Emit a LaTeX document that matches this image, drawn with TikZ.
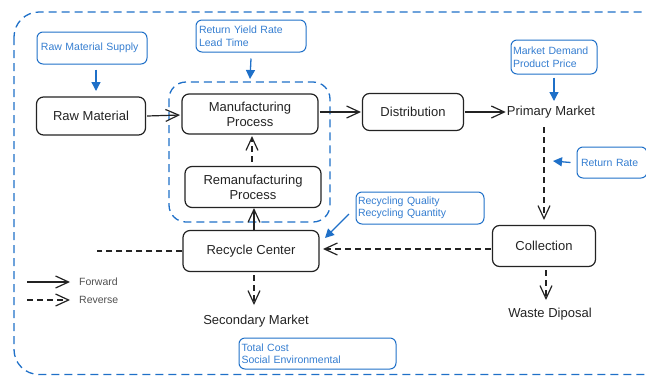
\documentclass[tikz,border=0pt]{standalone}
\usepackage{fontspec}
\setmainfont{Liberation Sans}
\usetikzlibrary{arrows.meta}
\definecolor{bl}{RGB}{31,112,200}
\definecolor{blt}{RGB}{52,125,208}
\definecolor{dk}{RGB}{35,35,35}
\definecolor{tx}{RGB}{35,35,35}
\tikzset{
  blk/.style={draw=dk,line width=1.2pt,rounded corners=7pt,text=tx,font=\fontsize{13}{15}\selectfont,align=center,inner sep=0pt},
  plain/.style={text=tx,font=\fontsize{13}{15}\selectfont,inner sep=1pt},
  blu/.style={draw=bl,line width=1pt,rounded corners=6pt,text=blt,font=\fontsize{10.5}{12.5}\selectfont,align=left,inner sep=0pt},
  fwd/.style={draw=dk,line width=1.2pt,-{Straight Barb[length=13pt,width=12pt,line width=1.2pt]}},
  rev/.style={fwd,dash pattern=on 6pt off 4pt},
  barr/.style={draw=bl,line width=1.3pt,-{Triangle[length=9pt,width=9pt]}},
  grp/.style={draw=bl,line width=1.3pt,dash pattern=on 8pt off 5pt}
}
\begin{document}
\begin{tikzpicture}[x=1pt,y=-1pt]
\useasboundingbox (0,0) rectangle (646,376);
% outer dashed group
\draw[grp,rounded corners=25pt] (14,12) rectangle (670,374.5);
% inner dashed group
\draw[grp,rounded corners=17pt] (169,82) rectangle (330,222);
% black nodes
\node[blk,minimum width=109pt,minimum height=38pt] (raw) at (91,116) {Raw Material};
\node[blk,minimum width=136pt,minimum height=40pt] (man) at (250,114) {Manufacturing\\Process};
\node[blk,minimum width=136pt,minimum height=41pt] (rem) at (253,187) {Remanufacturing\\Process};
\node[blk,minimum width=101pt,minimum height=37pt] (dis) at (413,112) {Distribution};
\node[plain] (pm) at (551,112) {Primary Market};
\node[blk,minimum width=136pt,minimum height=41pt] (rc) at (251,251) {Recycle Center};
\node[blk,minimum width=103pt,minimum height=41pt] (col) at (544,246) {Collection};
\node[plain] (sm) at (256,321) {Secondary Market};
\node[plain] (wd) at (550,314) {Waste Diposal};
% blue boxes
\node[blu,minimum width=110pt,minimum height=32pt,text width=102pt] (rms) at (92,48) {Raw Material Supply};
\node[blu,minimum width=110pt,minimum height=32pt,text width=104pt] (ryr) at (251,36) {Return Yield Rate\\Lead Time};
\node[blu,minimum width=86pt,minimum height=34pt,text width=82pt] (mdp) at (554,57) {Market Demand\\Product Price};
\node[blu,minimum width=70pt,minimum height=31pt,text width=62pt] (rr) at (612,162.5) {Return Rate};
\node[blu,minimum width=128pt,minimum height=32pt,text width=124pt] (rq) at (420,208) {Recycling Quality\\Recycling Quantity};
\node[blu,minimum width=157pt,minimum height=31pt,text width=152pt] (tc) at (317.5,353.5) {Total Cost\\Social Environmental};
% helper coordinates
\coordinate (grptop) at (250,79);
\coordinate (pmdash) at (544,127);
\coordinate (rrt) at (553,161);
\coordinate (rcleft) at (97,251);
\coordinate (legA) at (27,282);
\coordinate (legB) at (70,282);
\coordinate (legC) at (27,300);
\coordinate (legD) at (70,300);
% blue arrows
\draw[barr] (rms.south -| 96,0) ++(0,5) -- (96,91);
\draw[barr] (ryr.south) ++(0,6) -- (grptop);
\draw[barr] (mdp.south) ++(0,3) -- (554,101);
\draw[barr] (rr.west) ++(-6,0) -- (rrt);
\draw[barr] (349,214) -- (325,238);
% black flows
\draw[fwd] (raw.east) ++(1,0) -- (180,115);
\draw[fwd] (man.east) ++(1,-2) -- (361,112);
\draw[fwd] (dis.east) ++(1,0) -- (pm.west);
\draw[rev] (pmdash) -- (544,220);
\draw[rev] (col.west) ++(-1,3) -- (323,249);
\draw[rev,-] (rc.west) -- (rcleft);
\draw[fwd] (254,231) -- (254,208);
\draw[rev] (rem.north -| 252,0) ++(0,-4) -- (252,136);
\draw[rev] (rc.south -| 254,0) ++(0,3) -- (254,305);
\draw[rev] (col.south -| 546,0) ++(0,3) -- (546,300);
% legend
\draw[fwd] (legA) -- (legB);
\node[anchor=west,text=tx!80,font=\fontsize{10.5}{12.5}\selectfont,inner sep=0pt] (lf) at (79,282) {Forward};
\draw[rev] (legC) -- (legD);
\node[anchor=west,text=tx!80,font=\fontsize{10.5}{12.5}\selectfont,inner sep=0pt] (lr) at (79,300) {Reverse};
\end{tikzpicture}
\end{document}
